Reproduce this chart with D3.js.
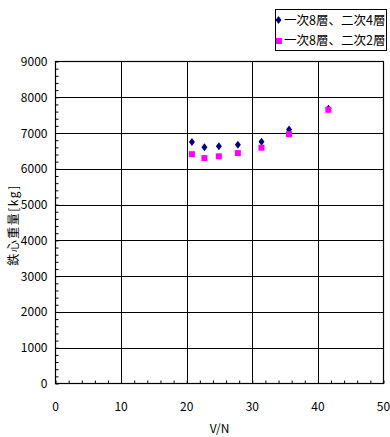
<!DOCTYPE html>
<html><head><meta charset="utf-8">
<script src="https://cdn.jsdelivr.net/npm/d3@7"></script>
<style>
html,body{margin:0;padding:0;background:#fff;}
svg text{font-family:"Noto Sans CJK JP","Noto Sans",sans-serif;fill:#000;}
</style></head>
<body><svg id="c" width="390" height="437"></svg>
<script>
const seriesNames = ["一次8層、二次4層", "一次8層、二次2層"];
const xVals = [20.8, 22.7, 24.9, 27.8, 31.4, 35.6, 41.6];
const seriesA = [6750, 6600, 6630, 6670, 6760, 7100, 7680];
const seriesB = [6410, 6300, 6350, 6440, 6590, 6970, 7650];
const xTicks = [0, 10, 20, 30, 40, 50];
const yTicks = [0, 1000, 2000, 3000, 4000, 5000, 6000, 7000, 8000, 9000];
const xLabel = "V/N";
const yLabel = "鉄心重量[kg]";

const svg = d3.select("#c");
const L = 55.5, R = 383.5, T = 61.5, B = 383.5;
const x = d3.scaleLinear().domain([0, 50]).range([L, R]);
const y = d3.scaleLinear().domain([0, 9000]).range([B, T]);

const g = svg.append("g");
g.selectAll("line.gx").data(xTicks.slice(1, -1)).join("line")
  .attr("x1", d => Math.round(x(d)) + 0.5).attr("x2", d => Math.round(x(d)) + 0.5)
  .attr("y1", T).attr("y2", B).attr("stroke", "#000").attr("stroke-width", 1);
g.selectAll("line.gy").data(yTicks.slice(1, -1)).join("line")
  .attr("y1", d => Math.round(y(d)) + 0.5).attr("y2", d => Math.round(y(d)) + 0.5)
  .attr("x1", L).attr("x2", R).attr("stroke", "#000").attr("stroke-width", 1);

const xAxis = d3.axisBottom(x).tickValues(d3.range(0, 51, 2)).tickSize(-3).tickFormat("");
const yAxis = d3.axisLeft(y).tickValues(d3.range(0, 9001, 200)).tickSize(-3).tickFormat("");
const gx = svg.append("g").attr("transform", `translate(0,${B})`).call(xAxis);
const gy = svg.append("g").attr("transform", `translate(${L},0)`).call(yAxis);
[gx, gy].forEach(a => { a.select(".domain").remove(); a.selectAll("line").attr("stroke", "#000"); });

svg.append("rect").attr("x", L).attr("y", T).attr("width", R - L).attr("height", B - T)
  .attr("fill", "none").attr("stroke", "#000").attr("stroke-width", 1.2);

svg.selectAll("text.xt").data(xTicks).join("text")
  .attr("x", d => x(d)).attr("y", B + 27).attr("text-anchor", "middle")
  .attr("font-size", 12).text(d => d);
svg.selectAll("text.yt").data(yTicks).join("text")
  .attr("x", L - 8).attr("y", d => y(d) + 4.5).attr("text-anchor", "end")
  .attr("font-size", 12).text(d => d);

svg.append("text").attr("x", (L + R) / 2).attr("y", 433).attr("text-anchor", "middle")
  .attr("font-size", 12).text(xLabel);
svg.append("text").attr("transform", "translate(18,225) rotate(-90)").attr("text-anchor", "middle")
  .attr("font-size", 12).attr("letter-spacing", 1.5).text(yLabel);

const diamond = "M0,-4L3,0L0,4L-3,0Z";
svg.selectAll("path.a").data(xVals).join("path")
  .attr("d", diamond).attr("fill", "#000080")
  .attr("transform", (d, i) => `translate(${x(d)},${y(seriesA[i])})`);
svg.selectAll("rect.b").data(xVals).join("rect")
  .attr("x", d => x(d) - 3).attr("y", (d, i) => y(seriesB[i]) - 3)
  .attr("width", 6).attr("height", 6).attr("fill", "#ff00ff");

const lg = svg.append("g");
lg.append("rect").attr("x", 275.5).attr("y", 9.5).attr("width", 111).attr("height", 41)
  .attr("fill", "#fff").attr("stroke", "#000").attr("stroke-width", 1);
lg.append("path").attr("d", diamond).attr("fill", "#000080").attr("transform", "translate(278.5,20)");
lg.append("rect").attr("x", 276).attr("y", 38).attr("width", 6).attr("height", 6).attr("fill", "#ff00ff");
lg.selectAll("text.l").data(seriesNames).join("text")
  .attr("x", 284).attr("y", (d, i) => 25 + i * 20).attr("font-size", 12.5).text(d => d);
</script></body></html>
